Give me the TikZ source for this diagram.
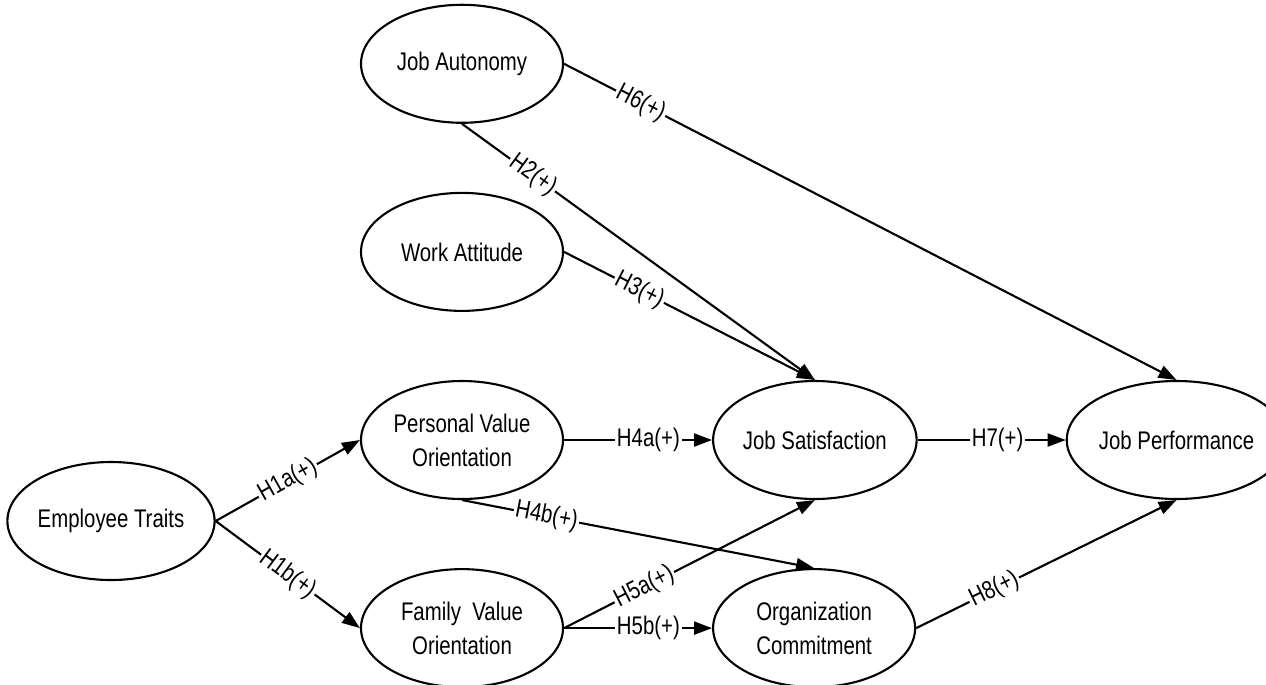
\documentclass[tikz,border=0pt]{standalone}
\usepackage{fontspec}
\setmainfont{Liberation Sans}[FakeStretch=0.8]
\usetikzlibrary{arrows.meta,positioning,shapes.geometric}

\begin{document}
\begin{tikzpicture}[node distance=1.36cm and 2.96cm,
        construct/.style={draw, ellipse, line width=1.2pt, minimum width=4.04cm, minimum height=2.36cm, inner sep=0pt, align=center, font=\fontsize{14.5}{19.3}\selectfont},
        hyp/.style={fill=white, inner sep=1pt, font=\fontsize{14.5}{16}\selectfont},
        link/.style={-{Triangle[length=3.6mm, width=2.6mm]}, line width=1.2pt}]
        \useasboundingbox (0,0) rectangle (25.32,-13.68);

        \node (PVO) [construct] at (9.24, -8.8) {Personal Value\\Orientation};
        \node (JS) [construct, right=of PVO] {Job Satisfaction};
        \node (JP) [construct, right=of JS] {Job Performance};
        \node (FVO) [construct, below=of PVO] {Family\ \ Value\\Orientation};
        \node (OC) [construct, right=of FVO] {Organization\\Commitment};
        \node (WA) [construct, above=of PVO] {Work Attitude};
        \node (JA) [construct, above=of WA] {Job Autonomy};
        \node (ET) [construct] at (2.22, -10.42) {Employee Traits};

        \draw[link] (ET.east) -- node[hyp, sloped] {H1a(+)} (PVO.west);
        \draw[link] (ET.east) -- node[hyp, sloped] {H1b(+)} (FVO.west);
        \draw[link] (PVO) -- node[hyp, pos=0.57] {H4a(+)} (JS);
        \draw[link] (PVO.south) -- node[hyp, sloped, pos=0.24] {H4b(+)} (OC.north);
        \draw[link] (FVO.east) -- node[hyp, sloped, pos=0.32] {H5a(+)} (JS.south);
        \draw[link] (FVO.east) -- node[hyp, pos=0.57] {H5b(+)} (OC.west);
        \draw[link] (JA.south) -- node[hyp, sloped, pos=0.2] {H2(+)} (JS.north);
        \draw[link] (WA.east) -- node[hyp, sloped, pos=0.3] {H3(+)} (JS.north);
        \draw[link] (JA.east) -- node[hyp, sloped, pos=0.125] {H6(+)} (JP.north);
        \draw[link] (JS) -- node[hyp, pos=0.54] {H7(+)} (JP);
        \draw[link] (OC.east) -- node[hyp, sloped, pos=0.3] {H8(+)} (JP.south);
    \end{tikzpicture}
\end{document}
